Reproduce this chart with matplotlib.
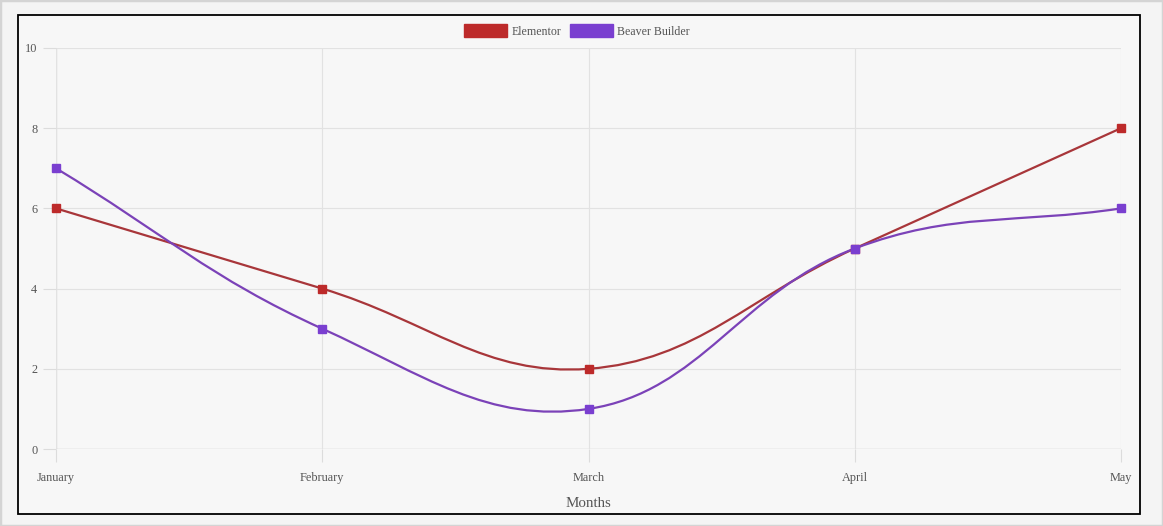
import matplotlib
matplotlib.use("Agg")
import matplotlib.pyplot as plt
import numpy as np
from matplotlib.path import Path
from matplotlib.patches import PathPatch, Patch, Rectangle

months = ["January", "February", "March", "April", "May"]
elementor = [6, 4, 2, 5, 8]
beaver = [7, 3, 1, 5, 6]
series_names = ["Elementor", "Beaver Builder"]
y_ticks = [0, 2, 4, 6, 8, 10]

fill_colors = ["#bd2a2a", "#7a3fd0"]
line_colors = ["#a8363a", "#7b42b8"]

W, H = 1163, 526
plt.rcParams['font.family'] = ['Liberation Serif', 'DejaVu Serif']
fig = plt.figure(figsize=(W / 100, H / 100), dpi=100, facecolor="#f4f4f4")

# outer light border and inner black-framed panel
fig.patches.append(Rectangle((0, 0), 1, 1, transform=fig.transFigure, fill=False,
                             edgecolor="#d4d4d4", linewidth=2.5, zorder=-2))
fig.patches.append(Rectangle((18 / W, 1 - 514 / H), (1140 - 18) / W, (514 - 15) / H,
                             transform=fig.transFigure, facecolor="#f7f7f7",
                             edgecolor="black", linewidth=1.3, zorder=-1))

ax = fig.add_axes([56 / W, 1 - 449 / H, (1121 - 56) / W, (449 - 48) / H])
ax.set_zorder(1)
ax.set_facecolor("none")
x = np.arange(len(months))
ax.set_xlim(0, len(months) - 1)
ax.set_ylim(0, 10)
for s in ax.spines.values():
    s.set_visible(False)
ax.set_xticks(x)
ax.set_xticklabels(months)
ax.set_yticks(y_ticks)
ax.tick_params(axis='both', length=9.5, width=0.8, color="#dcdcdc", labelcolor="#555555",
               labelsize=8.8)
ax.tick_params(axis='x', pad=7)
ax.tick_params(axis='y', pad=4)
ax.grid(True, color="#e2e2e2", linewidth=0.8)
ax.axhline(0, color="#bdbdbd", linewidth=0.9, zorder=1.5)
ax.axvline(0, color="#cfcfcf", linewidth=0.9, zorder=1.5)
ax.set_xlabel("Months", fontsize=10.8, color="#555555", labelpad=9.5)

fig.canvas.draw()
tension = 0.4


def spline_path(xs, ys):
    pts = ax.transData.transform(np.column_stack([xs, ys]))
    n = len(pts)
    cps_prev, cps_next = [], []
    for i in range(n):
        p0 = pts[i - 1] if i > 0 else pts[i]
        p1 = pts[i]
        p2 = pts[i + 1] if i < n - 1 else pts[i]
        d01 = np.hypot(*(p1 - p0))
        d12 = np.hypot(*(p2 - p1))
        tot = d01 + d12
        fa = tension * d01 / tot if tot else 0
        fb = tension * d12 / tot if tot else 0
        cps_prev.append(p1 - fa * (p2 - p0))
        cps_next.append(p1 + fb * (p2 - p0))
    verts = [pts[0]]
    codes = [Path.MOVETO]
    for i in range(n - 1):
        verts += [cps_next[i], cps_prev[i + 1], pts[i + 1]]
        codes += [Path.CURVE4] * 3
    verts = ax.transData.inverted().transform(np.array(verts))
    return Path(verts, codes)


for vals, fc, lc in zip([elementor, beaver], fill_colors, line_colors):
    ax.add_patch(PathPatch(spline_path(x, vals), facecolor="none", edgecolor=lc,
                           linewidth=1.6, zorder=3, clip_on=False))
    ax.plot(x, vals, linestyle="none", marker="s", markersize=5.8, markerfacecolor=fc,
            markeredgecolor=fc, zorder=4, clip_on=False)

handles = [Patch(facecolor=fc, edgecolor=fc) for fc in fill_colors]
fig.legend(handles, series_names, loc="center", bbox_to_anchor=(577 / W, 1 - 31 / H),
           ncol=2, frameon=False, fontsize=8.6, labelcolor="#555555",
           handlelength=3.6, handleheight=1.2, handletextpad=0.35, columnspacing=0.7,
           borderpad=0, borderaxespad=0)

fig.savefig("out.png", dpi=100, facecolor=fig.get_facecolor())
